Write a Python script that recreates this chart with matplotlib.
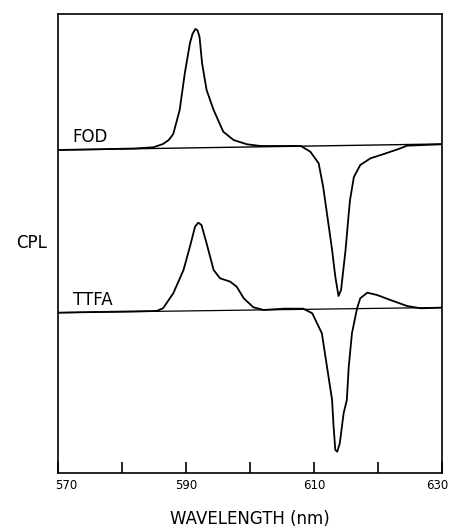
import matplotlib
matplotlib.use("Agg")
import matplotlib.pyplot as plt
import matplotlib.transforms as mtransforms
import numpy as np

# Wavelength (nm) and CPL (arbitrary units)
fod_wl = [570.0, 576.5, 582.0, 584.9, 586.4, 587.3, 588.0, 589.0, 589.8, 590.6, 591.0,
          591.45, 591.8, 592.1, 592.5, 593.2, 594.3, 595.8, 597.4, 599.5, 601.6,
          607.9, 609.4, 610.7, 611.4, 611.7, 612.8, 613.3, 613.8, 614.2, 614.9,
          615.4, 615.6, 616.2, 617.2, 618.8, 620.9, 623.5, 624.5, 630.0]
fod_cpl = [-1.0, -0.3, 0.5, 1.7, 5.0, 9.0, 15.0, 39.0, 75.7, 105.7, 115.0,
           120.0, 118.5, 112.0, 85.7, 59.0, 39.0, 17.3, 9.0, 4.7, 3.0,
           3.0, -2.7, -14.3, -37.7, -51.0, -101.0, -127.7, -147.0, -141.0, -101.0,
           -64.3, -51.0, -28.0, -16.0, -9.3, -5.0, 0.7, 3.3, 4.7]

ttfa_wl = [570.0, 585.4, 586.4, 588.0, 589.6, 590.6, 591.4, 591.9, 592.4, 593.2,
           594.3, 595.3, 596.9, 597.9, 599.0, 600.5, 602.1, 605.2, 608.3, 609.7,
           611.2, 612.0, 612.8, 613.0, 613.3, 613.6, 614.0, 614.6, 615.1, 615.4,
           615.9, 616.7, 617.2, 618.3, 619.8, 621.9, 624.5, 626.6, 630.0]
ttfa_cpl = [-1.7, 0.0, 2.7, 17.7, 41.0, 64.3, 84.3, 88.3, 86.0, 67.7,
            41.0, 32.7, 29.3, 24.3, 12.7, 3.7, 1.0, 2.3, 2.3, -2.3,
            -22.3, -55.7, -89.0, -112.3, -139.0, -140.7, -132.3, -102.3, -89.0, -55.7,
            -22.3, 2.7, 12.7, 18.3, 16.0, 11.0, 5.0, 2.7, 3.3]

base_wl = [570.0, 630.0]
fod_base = [-1.0, 5.0]
ttfa_base = [-1.7, 3.5]

fod_offset = 324.0
ttfa_offset = 162.0

xticks = [570, 580, 590, 600, 610, 620, 630]
xticklabels = ["570", "", "590", "", "610", "", "630"]

fig = plt.figure(figsize=(4.51, 5.27), dpi=100)
ax = fig.add_axes([0.1286, 0.1025, 0.852, 0.871])

lw = 1.3
ax.plot(fod_wl, np.array(fod_cpl) + fod_offset, color="black", lw=lw)
ax.plot(base_wl, np.array(fod_base) + fod_offset, color="black", lw=1.0)
ax.plot(ttfa_wl, np.array(ttfa_cpl) + ttfa_offset, color="black", lw=lw)
ax.plot(base_wl, np.array(ttfa_base) + ttfa_offset, color="black", lw=0.9)

ax.set_xlim(570, 630)
ax.set_ylim(0, 459)

ax.text(572.3, 336, "FOD", fontsize=12, ha="left", va="center")
ax.text(572.3, 173, "TTFA", fontsize=12, ha="left", va="center")
ax.text(-0.11, 230 / 459, "CPL", fontsize=12, ha="left", va="center",
        transform=ax.transAxes)

ax.set_xticks(xticks)
ax.set_xticklabels(xticklabels, fontsize=8.5)
ax.tick_params(axis="x", direction="in", length=8, width=1.2, pad=4)
labels = ax.get_xticklabels()
labels[0].set_transform(labels[0].get_transform() +
                        mtransforms.ScaledTranslation(0.08, 0, fig.dpi_scale_trans))
labels[-1].set_transform(labels[-1].get_transform() +
                         mtransforms.ScaledTranslation(-0.05, 0, fig.dpi_scale_trans))
ax.set_yticks([])
for s in ax.spines.values():
    s.set_linewidth(1.2)

ax.set_xlabel("WAVELENGTH (nm)", fontsize=12, labelpad=13)

fig.savefig("out.png", dpi=100)
